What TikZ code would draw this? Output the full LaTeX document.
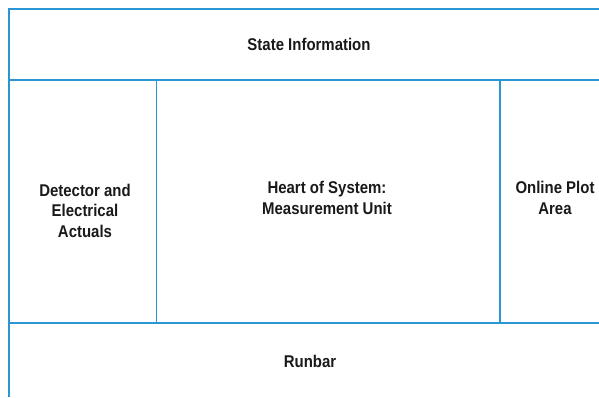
\documentclass[tikz,border=0pt]{standalone}
\usepackage{fontspec}
\setmainfont{Liberation Sans}[FakeStretch=0.88]
\definecolor{linecol}{RGB}{43,150,212}
\begin{document}
\begin{tikzpicture}[x=1pt,y=-1pt,
  rule/.style={draw=linecol,line width=1.3pt},
  lbl/.style={font=\bfseries\fontsize{17}{20.5}\selectfont,align=center,text=black!90,inner sep=0pt}]
\useasboundingbox (0,0) rectangle (599,398);
\coordinate (tl) at (9,9);
\coordinate (tr) at (599,9);
\coordinate (ml) at (9,80);
\coordinate (mr) at (599,80);
\coordinate (bl) at (9,323);
\coordinate (br) at (599,323);
\coordinate (bot) at (9,397);
\coordinate (v1t) at (156.5,80);
\coordinate (v1b) at (156.5,323);
\coordinate (v2t) at (500,80);
\coordinate (v2b) at (500,323);
\draw[rule] (tr) -- (tl) -- (bot);
\draw[rule] (ml) -- (mr);
\draw[rule] (bl) -- (br);
\draw[rule] (v1t) -- (v1b);
\draw[rule] (v2t) -- (v2b);
\node[lbl] (state) at (309,44) {State Information};
\node[lbl] (det) at (85,210.5) {Detector and\\Electrical\\Actuals};
\node[lbl] (heart) at (327,198) {Heart of System:\\Measurement Unit};
\node[lbl] (plot) at (555,198) {Online Plot\\Area};
\node[lbl] (run) at (310,361) {Runbar};
\end{tikzpicture}
\end{document}
